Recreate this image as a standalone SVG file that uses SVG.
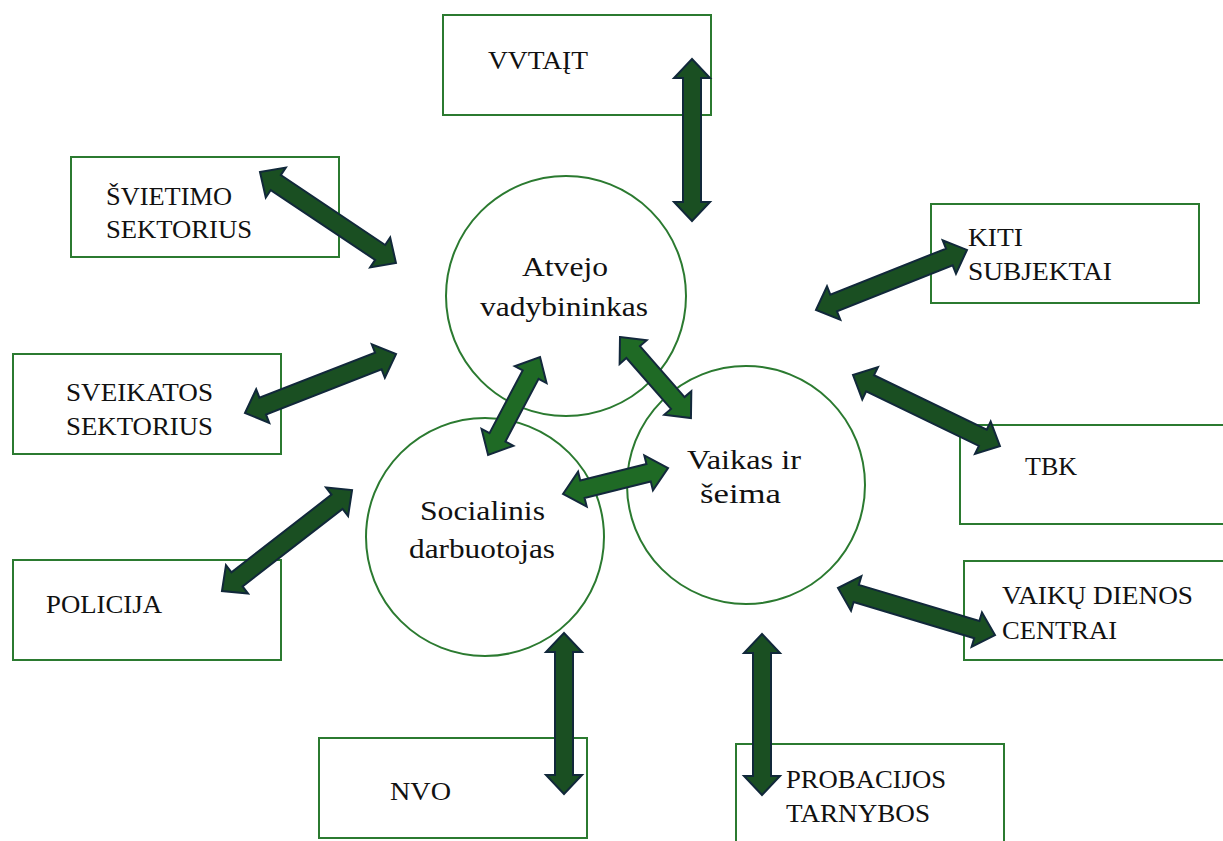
<svg xmlns="http://www.w3.org/2000/svg" width="1223" height="841" viewBox="0 0 1223 841">
  <style>
    .box { fill: #ffffff; stroke: #2b7a30; stroke-width: 2; }
    .circ { fill: #ffffff; stroke: #2b7a30; stroke-width: 2; }
    .lbl { font-family: 'Liberation Serif', 'DejaVu Serif', serif; font-size: 25px; fill: #111111; }
    .clbl { font-family: 'Liberation Serif', 'DejaVu Serif', serif; font-size: 27px; fill: #111111; }
    .arr-out { fill: #1a4f22; stroke: #11283a; stroke-width: 2; stroke-linejoin: miter; }
    .arr-in { fill: #1f6a25; stroke: #13283c; stroke-width: 2; stroke-linejoin: miter; }
  </style>

  <!-- outer partner boxes -->
  <g id="vvtait">
    <rect class="box" x="443" y="15" width="268" height="100"/>
    <text class="lbl" x="488" y="69" textLength="100" lengthAdjust="spacingAndGlyphs">VVTAĮT</text>
  </g>
  <g id="svietimo">
    <rect class="box" x="71" y="157" width="268" height="100"/>
    <text class="lbl" x="106" y="205" textLength="126" lengthAdjust="spacingAndGlyphs">ŠVIETIMO</text>
    <text class="lbl" x="106" y="238" textLength="146" lengthAdjust="spacingAndGlyphs">SEKTORIUS</text>
  </g>
  <g id="kiti">
    <rect class="box" x="931" y="204" width="268" height="99"/>
    <text class="lbl" x="968" y="246" textLength="55" lengthAdjust="spacingAndGlyphs">KITI</text>
    <text class="lbl" x="968" y="280" textLength="144" lengthAdjust="spacingAndGlyphs">SUBJEKTAI</text>
  </g>
  <g id="sveikatos">
    <rect class="box" x="13" y="354" width="268" height="100"/>
    <text class="lbl" x="66" y="401" textLength="147" lengthAdjust="spacingAndGlyphs">SVEIKATOS</text>
    <text class="lbl" x="66" y="435" textLength="147" lengthAdjust="spacingAndGlyphs">SEKTORIUS</text>
  </g>
  <g id="tbk">
    <rect class="box" x="960" y="425" width="275" height="99"/>
    <text class="lbl" x="1025" y="475" textLength="52" lengthAdjust="spacingAndGlyphs">TBK</text>
  </g>
  <g id="policija">
    <rect class="box" x="13" y="560" width="268" height="100"/>
    <text class="lbl" x="46" y="613" textLength="116" lengthAdjust="spacingAndGlyphs">POLICIJA</text>
  </g>
  <g id="vaiku-dienos">
    <rect class="box" x="964" y="561" width="270" height="99"/>
    <text class="lbl" x="1002" y="604" textLength="191" lengthAdjust="spacingAndGlyphs">VAIKŲ DIENOS</text>
    <text class="lbl" x="1002" y="639" textLength="115" lengthAdjust="spacingAndGlyphs">CENTRAI</text>
  </g>
  <g id="nvo">
    <rect class="box" x="319" y="738" width="268" height="100"/>
    <text class="lbl" x="390" y="800" textLength="61" lengthAdjust="spacingAndGlyphs">NVO</text>
  </g>
  <g id="probacijos">
    <rect class="box" x="736" y="744" width="268" height="110"/>
    <text class="lbl" x="786" y="788" textLength="160" lengthAdjust="spacingAndGlyphs">PROBACIJOS</text>
    <text class="lbl" x="786" y="822" textLength="144" lengthAdjust="spacingAndGlyphs">TARNYBOS</text>
  </g>

  <!-- central circles -->
  <g id="atvejo">
    <circle class="circ" cx="566" cy="296" r="120"/>
    <text class="clbl" x="522" y="276" textLength="86" lengthAdjust="spacingAndGlyphs">Atvejo</text>
    <text class="clbl" x="480" y="316" textLength="168" lengthAdjust="spacingAndGlyphs">vadybininkas</text>
  </g>
  <g id="socialinis">
    <circle class="circ" cx="485" cy="537" r="119"/>
    <text class="clbl" x="420" y="520" textLength="125" lengthAdjust="spacingAndGlyphs">Socialinis</text>
    <text class="clbl" x="409" y="558" textLength="146" lengthAdjust="spacingAndGlyphs">darbuotojas</text>
  </g>
  <g id="vaikas">
    <circle class="circ" cx="746" cy="485" r="119"/>
    <text class="clbl" x="687" y="469" textLength="114" lengthAdjust="spacingAndGlyphs">Vaikas ir</text>
    <text class="clbl" x="700" y="503" textLength="81" lengthAdjust="spacingAndGlyphs">šeima</text>
  </g>

  <!-- double-headed block arrows -->
  <g id="connectors">
    <path class="arr-out" transform="translate(692,59) rotate(90)" d="M0,0 L19,-18 L19,-9 L143,-9 L143,-18 L162,0 L143,18 L143,9 L19,9 L19,18 Z"/>
    <path class="arr-out" transform="translate(260,172) rotate(33.8)" d="M0,0 L19,-18 L19,-9 L144.6,-9 L144.6,-18 L163.6,0 L144.6,18 L144.6,9 L19,9 L19,18 Z"/>
    <path class="arr-out" transform="translate(245,413) rotate(-21.3)" d="M0,0 L19,-18 L19,-9 L143.1,-9 L143.1,-18 L162.1,0 L143.1,18 L143.1,9 L19,9 L19,18 Z"/>
    <path class="arr-out" transform="translate(222,591) rotate(-37.8)" d="M0,0 L19,-18 L19,-9 L145.6,-9 L145.6,-18 L164.6,0 L145.6,18 L145.6,9 L19,9 L19,18 Z"/>
    <path class="arr-out" transform="translate(816,310) rotate(-21.7)" d="M0,0 L19,-18 L19,-9 L143.5,-9 L143.5,-18 L162.5,0 L143.5,18 L143.5,9 L19,9 L19,18 Z"/>
    <path class="arr-out" transform="translate(853,375) rotate(25.8)" d="M0,0 L19,-18 L19,-9 L144.2,-9 L144.2,-18 L163.2,0 L144.2,18 L144.2,9 L19,9 L19,18 Z"/>
    <path class="arr-out" transform="translate(838,588) rotate(16.7)" d="M0,0 L19,-18 L19,-9 L144.9,-9 L144.9,-18 L163.9,0 L144.9,18 L144.9,9 L19,9 L19,18 Z"/>
    <path class="arr-out" transform="translate(564,633) rotate(90)" d="M0,0 L19,-18 L19,-9 L142,-9 L142,-18 L161,0 L142,18 L142,9 L19,9 L19,18 Z"/>
    <path class="arr-out" transform="translate(762,634) rotate(90)" d="M0,0 L19,-18 L19,-9 L142,-9 L142,-18 L161,0 L142,18 L142,9 L19,9 L19,18 Z"/>
    <path class="arr-in" transform="translate(540,357) rotate(117.9)" d="M0,0 L20,-18 L20,-9 L90.9,-9 L90.9,-18 L110.9,0 L90.9,18 L90.9,9 L20,9 L20,18 Z"/>
    <path class="arr-in" transform="translate(620,337) rotate(48.8)" d="M0,0 L20,-18 L20,-9 L87.7,-9 L87.7,-18 L107.7,0 L87.7,18 L87.7,9 L20,9 L20,18 Z"/>
    <path class="arr-in" transform="translate(563,494) rotate(-13.9)" d="M0,0 L20,-18 L20,-9 L88.2,-9 L88.2,-18 L108.2,0 L88.2,18 L88.2,9 L20,9 L20,18 Z"/>
  </g>
</svg>
